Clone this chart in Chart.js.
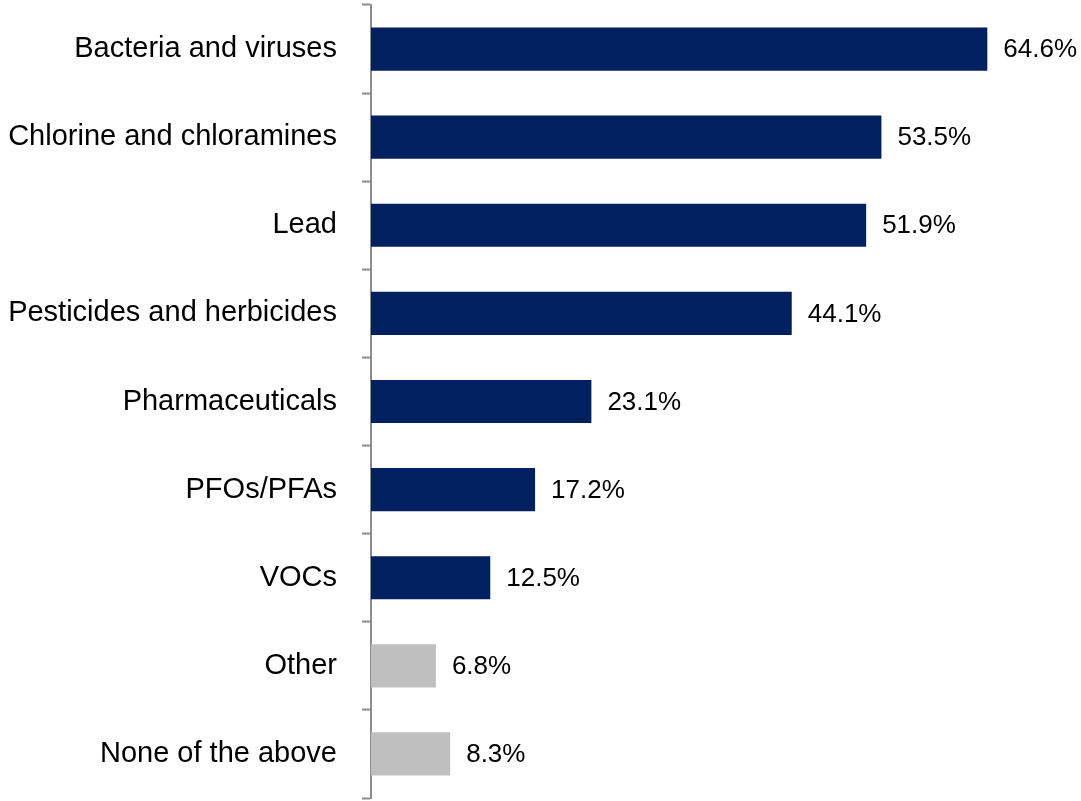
<!DOCTYPE html>
<html>
<head>
<meta charset="utf-8">
<script src="https://cdn.jsdelivr.net/npm/chart.js@4/dist/chart.umd.min.js"></script>
<style>
    html, body {
        margin: 0;
        padding: 0;
        background: #ffffff;
    }

    #wrap {
        width: 1081px;
        height: 801px;
    }
</style>
</head>
<body>
<div id="wrap">
    <canvas id="contaminantChart"></canvas>
</div>
<script>
const categories = [
    "Bacteria and viruses",
    "Chlorine and chloramines",
    "Lead",
    "Pesticides and herbicides",
    "Pharmaceuticals",
    "PFOs/PFAs",
    "VOCs",
    "Other",
    "None of the above"
];

const shares = [64.6, 53.5, 51.9, 44.1, 23.1, 17.2, 12.5, 6.8, 8.3];

const highlighted = [true, true, true, true, true, true, true, false, false];

const NAVY = "#002060";
const GREY = "#bfbfbf";
const FONT = "'Liberation Sans', Arial, sans-serif";

// percentage labels to the right of each bar
const valueLabels = {
    id: "valueLabels",
    afterDatasetsDraw(chart) {
        const ctx = chart.ctx;
        const meta = chart.getDatasetMeta(0);

        ctx.save();
        ctx.font = "26px " + FONT;
        ctx.fillStyle = "#000000";
        ctx.textAlign = "left";
        ctx.textBaseline = "middle";

        meta.data.forEach((bar, i) => {
            ctx.fillText(
                shares[i].toFixed(1) + "%",
                bar.x + 16,
                bar.y + 1
            );
        });

        ctx.restore();
    }
};

new Chart(document.getElementById("contaminantChart"), {
    type: "bar",
    data: {
        labels: categories,
        datasets: [
            {
                data: shares,
                backgroundColor: highlighted.map(h => (h ? NAVY : GREY)),
                borderWidth: 0,
                barPercentage: 0.49,
                categoryPercentage: 1
            }
        ]
    },
    options: {
        indexAxis: "y",
        responsive: true,
        maintainAspectRatio: false,
        animation: false,
        layout: {
            padding: {
                top: 5,
                bottom: 3,
                left: 0,
                right: 4
            }
        },
        plugins: {
            legend: { display: false },
            tooltip: { enabled: false }
        },
        scales: {
            x: {
                display: false,
                min: 0,
                max: 74
            },
            y: {
                afterFit(scale) {
                    scale.width = 371;
                    scale.paddingTop = 0;
                    scale.paddingBottom = 0;
                },
                border: {
                    display: true,
                    color: "#8c8c8c",
                    width: 2
                },
                grid: {
                    display: true,
                    drawOnChartArea: false,
                    drawTicks: true,
                    tickLength: 9,
                    tickWidth: 2,
                    tickColor: "#8c8c8c",
                    offset: true
                },
                ticks: {
                    color: "#000000",
                    padding: 25,
                    font: {
                        family: FONT,
                        size: 29
                    }
                }
            }
        }
    },
    plugins: [valueLabels]
});
</script>
</body>
</html>
